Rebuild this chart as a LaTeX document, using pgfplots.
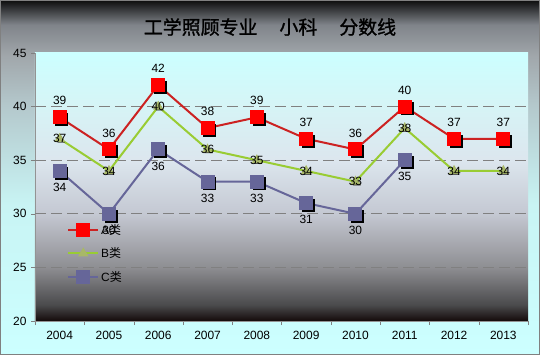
\documentclass[border=0pt]{standalone}
\usepackage{pgfplots}
\pgfplotsset{compat=1.18}
\usepackage{fontspec}
\setmainfont{Liberation Sans}
\newfontfamily\cjk{Noto Sans CJK SC}
\newfontfamily\cjkb[FakeBold=1.3]{Noto Sans CJK SC}
\definecolor{bgA}{HTML}{CCFFFF}
\definecolor{bgA2}{HTML}{C8F4F4}
\definecolor{bgB}{HTML}{B4C8CC}
\definecolor{bgC}{HTML}{A0A6AA}
\definecolor{bgD}{HTML}{80848A}
\definecolor{bgE}{HTML}{0C0C0C}
\definecolor{p0}{HTML}{140A0A}
\definecolor{p1}{HTML}{4A4A4C}
\definecolor{p2}{HTML}{8E8E92}
\definecolor{p3}{HTML}{C4C8D2}
\definecolor{p4}{HTML}{DCE6EE}
\definecolor{p5}{HTML}{D6F4F6}
\definecolor{p6}{HTML}{CCFFFF}
\definecolor{lineA}{HTML}{CC2222}
\definecolor{markA}{HTML}{FF0000}
\definecolor{lineB}{HTML}{99CC33}
\definecolor{markB}{HTML}{A8B868}
\definecolor{lineC}{HTML}{666699}
% TikZ maps the path onto the 25bp..75bp band of a 100bp shading
\pgfdeclareverticalshading{outerbg}{100bp}{color(0bp)=(bgA); color(25bp)=(bgA); color(46.1bp)=(bgA2); color(60.2bp)=(bgB); color(67.3bp)=(bgC); color(71.5bp)=(bgD); color(75bp)=(bgE); color(100bp)=(bgE)}
\pgfdeclareverticalshading{plotbg}{100bp}{color(0bp)=(p0); color(25bp)=(p0); color(28bp)=(p1); color(35bp)=(p2); color(45bp)=(p3); color(55bp)=(p4); color(65bp)=(p5); color(75bp)=(p6); color(100bp)=(p6)}
\pgfplotstableread{
x y
0 39
1 36
2 42
3 38
4 39
5 37
6 36
7 40
8 37
9 37
}\dataA
\pgfplotstableread{
x y
0 37
1 34
2 40
3 36
4 35
5 34
6 33
7 38
8 34
9 34
}\dataB
\pgfplotstableread{
x y
0 34
1 30
2 36
3 33
4 33
5 31
6 30
7 35
}\dataC
\begin{document}
\begin{tikzpicture}
\useasboundingbox (0,0) rectangle (540bp,355bp);
\shade[shading=outerbg] (0,0) rectangle (540bp,355bp);
\draw[gray, line width=0.8bp] (0.4bp,0.4bp) rectangle (539.6bp,354.6bp);
\node[font=\cjkb\fontsize{19}{19}\selectfont] at (270bp,328bp) {工学照顾专业\hspace{22bp}小科\hspace{22bp}分数线};
\begin{axis}[
  at={(35bp,34bp)}, anchor=south west,
  scale only axis, width=493bp, height=268bp,
  xmin=-0.5, xmax=9.5, ymin=20, ymax=45,
  axis background/.style={shading=plotbg},
  axis x line*=bottom, axis y line*=left,
  axis line style={-, draw=gray!85},
  xtick={0,...,9},
  xticklabels={2004,2005,2006,2007,2008,2009,2010,2011,2012,2013},
  minor xtick={-0.5,0.5,...,9.5},
  every major x tick/.append style={draw=none},
  every minor x tick/.append style={draw=gray},
  ytick={20,25,...,45},
  extra y ticks={25,30,35,40},
  extra y tick labels={},
  extra y tick style={grid=major, major tick length=0pt},
  grid style={dash pattern=on 11bp off 5bp, gray, line width=0.8bp},
  tick align=outside,
  major tick length=4bp, minor tick length=4bp,
  tick style={gray},
  ticklabel style={font=\fontsize{12}{12}\selectfont, text=black},
  /pgf/number format/assume math mode=true,
  xticklabel style={yshift=-3bp},
  yticklabel style={xshift=-1bp},
  clip=false,
  legend style={at={(0.065,0.37)}, anchor=north west, draw=none, fill=none,
    font=\fontsize{12}{12}\selectfont, row sep=8bp, inner sep=0pt},
  legend cell align=left,
  legend image code/.code={\draw[mark repeat=2,mark phase=2,#1] plot coordinates {(0bp,0bp) (15bp,0bp) (30bp,0bp)};},
]
% shadows
\addplot[forget plot, only marks, mark=square*, mark size=6bp, black, xshift=2bp, yshift=-2bp] table {\dataA};
\addplot[forget plot, only marks, mark=square*, mark size=6bp, black, xshift=2bp, yshift=-2bp] table {\dataC};
\addplot[forget plot, only marks, mark=triangle*, mark size=4bp, black!80, xshift=1.5bp, yshift=-1.5bp] table {\dataB};

\addplot[lineA, line width=2bp, mark=square*, mark size=6bp, mark options={fill=markA, draw=markA},
  nodes near coords, every node near coord/.append style={anchor=south, yshift=8bp, text=black, font=\fontsize{12}{12}\selectfont}] table {\dataA};
\addlegendentry{A{\cjk 类}}
\addplot[lineB, line width=2bp, mark=triangle*, mark size=4bp, mark options={fill=markB, draw=markB},
  nodes near coords, every node near coord/.append style={anchor=center, yshift=0bp, text=black, font=\fontsize{12}{12}\selectfont}] table {\dataB};
\addlegendentry{B{\cjk 类}}
\addplot[lineC, line width=2bp, mark=square*, mark size=6bp, mark options={fill=lineC, draw=lineC},
  nodes near coords, every node near coord/.append style={anchor=north, yshift=-8bp, text=black, font=\fontsize{12}{12}\selectfont}] table {\dataC};
\addlegendentry{C{\cjk 类}}
\end{axis}
\end{tikzpicture}
\end{document}
